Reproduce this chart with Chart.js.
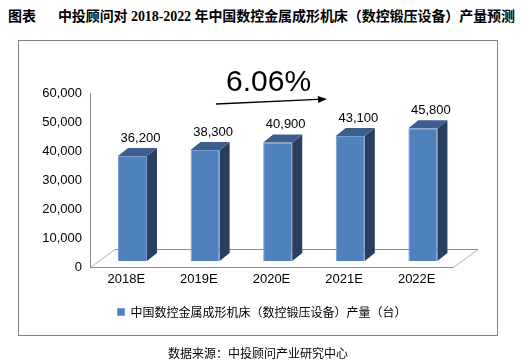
<!DOCTYPE html>
<html><head><meta charset="utf-8">
<script src="https://cdn.jsdelivr.net/npm/chart.js@4"></script>
<style>
html,body{margin:0;padding:0;background:#fff;}
body{width:521px;height:364px;position:relative;overflow:hidden;}
#title{position:absolute;left:8px;top:5px;font:bold 14px "Liberation Serif","Noto Sans CJK SC";white-space:nowrap;color:#000;}
#title .gap{display:inline-block;width:22px;}
#frame{position:absolute;left:18px;top:40px;width:478px;height:294px;border:1px solid #808080;}
#src{position:absolute;left:168px;top:344px;font:12px "Noto Sans CJK SC";color:#000;white-space:nowrap;}
canvas{position:absolute;left:0;top:0;}
</style></head>
<body>
<div id="title">图表<span class="gap"></span>中投顾问对 2018-2022 年中国数控金属成形机床（数控锻压设备）产量预测</div>
<div id="frame"></div>
<canvas id="c" width="521" height="364"></canvas>
<div id="src">数据来源：中投顾问产业研究中心</div>
<script>
const categories = ['2018E', '2019E', '2020E', '2021E', '2022E'];
const production = [36200, 38300, 40900, 43100, 45800];
const yTicks = [0, 10000, 20000, 30000, 40000, 50000, 60000];
const seriesName = '中国数控金属成形机床（数控锻压设备）产量（台）';
const growthRate = '6.06%';

// fit title width
(function(){
  const t = document.getElementById('title');
  const w = t.getBoundingClientRect().width;
  const target = 507;
  const n = t.textContent.length;
  t.style.letterSpacing = ((target - w) / n) + 'px';
})();

const FRONT = '#4F81BD', SIDE = '#2A3F5F', TOPC = '#3C5F8D', EDGE = '#7a9fd0';
const SHIFT = {x: 6.2, y: -6};
const DEPTH = {x: 10, y: -8};
const FLOOR = {x: 24.5, y: -18};
const LEGEND_CENTER = 262;
const NUMFONT = '"Liberation Sans", Arial, sans-serif';
const fmt = v => v.toLocaleString('en-US');

const bar3d = {
  id: 'bar3d',
  afterLayout(chart) {
    const lg = chart.legend;
    if (lg) {
      const d = LEGEND_CENTER - (lg.left + lg.right) / 2;
      lg.left += d; lg.right += d;
    }
  },
  beforeDatasetsDraw(chart) {
    const {ctx, scales: {x, y}} = chart;
    const y0 = Math.round(y.getPixelForValue(0)) + 0.5;
    const l = Math.round(x.left) + 0.5, r = Math.round(x.right) + 0.5;
    ctx.save();
    ctx.lineWidth = 1;
    ctx.strokeStyle = '#b0b0b0';
    ctx.beginPath();
    ctx.moveTo(l, y0); ctx.lineTo(l + FLOOR.x, y0 + FLOOR.y);
    ctx.moveTo(r, y0); ctx.lineTo(r + FLOOR.x, y0 + FLOOR.y);
    ctx.stroke();
    ctx.strokeStyle = '#8c8c8c';
    ctx.beginPath();
    ctx.moveTo(l, y0); ctx.lineTo(r, y0);
    ctx.moveTo(l + FLOOR.x, y0 + FLOOR.y); ctx.lineTo(r + FLOOR.x, y0 + FLOOR.y);
    ctx.stroke();
    ctx.restore();
    ctx.save();
    ctx.translate(SHIFT.x, SHIFT.y);
  },
  afterDatasetsDraw(chart) {
    const {ctx} = chart;
    const meta = chart.getDatasetMeta(0);
    const data = chart.data.datasets[0].data;
    meta.data.forEach((bar, i) => {
      const p = bar.getProps(['x', 'y', 'base', 'width'], true);
      const xl = p.x - p.width / 2, xr = p.x + p.width / 2;
      ctx.fillStyle = SIDE;
      ctx.beginPath();
      ctx.moveTo(xr, p.y); ctx.lineTo(xr + DEPTH.x, p.y + DEPTH.y);
      ctx.lineTo(xr + DEPTH.x, p.base + DEPTH.y); ctx.lineTo(xr, p.base);
      ctx.closePath(); ctx.fill();
      ctx.fillStyle = TOPC;
      ctx.beginPath();
      ctx.moveTo(xl, p.y); ctx.lineTo(xl + DEPTH.x, p.y + DEPTH.y);
      ctx.lineTo(xr + DEPTH.x, p.y + DEPTH.y); ctx.lineTo(xr, p.y);
      ctx.closePath(); ctx.fill();
      ctx.fillStyle = '#000';
      ctx.font = '13px ' + NUMFONT;
      ctx.textAlign = 'center';
      ctx.textBaseline = 'middle';
      ctx.fillText(fmt(data[i]), p.x + DEPTH.x / 2 + 3, p.y + DEPTH.y - 10);
    });
    ctx.restore();
  },
  afterDraw(chart) {
    const {ctx, scales: {x, y}} = chart;
    const x1 = x.getPixelForValue(1.235), y1 = y.getPixelForValue(56200);
    const x2 = x.getPixelForValue(2.764), y2 = y.getPixelForValue(57930);
    ctx.save();
    ctx.strokeStyle = '#000'; ctx.fillStyle = '#000'; ctx.lineWidth = 1.3;
    const ang = Math.atan2(y2 - y1, x2 - x1);
    const hl = 9, hw = 3.5;
    const bx = x2 - hl * Math.cos(ang), by = y2 - hl * Math.sin(ang);
    ctx.beginPath(); ctx.moveTo(x1, y1); ctx.lineTo(bx, by); ctx.stroke();
    ctx.beginPath();
    ctx.moveTo(x2, y2);
    ctx.lineTo(bx + hw * Math.sin(ang), by - hw * Math.cos(ang));
    ctx.lineTo(bx - hw * Math.sin(ang), by + hw * Math.cos(ang));
    ctx.closePath(); ctx.fill();
    ctx.font = '30px ' + NUMFONT;
    ctx.textAlign = 'center'; ctx.textBaseline = 'middle';
    ctx.fillText(growthRate, x.getPixelForValue(1.959), y.getPixelForValue(63620));
    ctx.restore();
  }
};

new Chart(document.getElementById('c'), {
  type: 'bar',
  data: {
    labels: categories,
    datasets: [{
      label: seriesName,
      data: production,
      backgroundColor: FRONT,
      borderColor: EDGE,
      borderWidth: 1,
      barPercentage: 0.4,
      categoryPercentage: 1.0,
      clip: false
    }]
  },
  options: {
    responsive: false,
    animation: false,
    layout: {padding: {left: 0, right: 68, top: 93, bottom: 36}},
    plugins: {
      legend: {
        position: 'bottom',
        labels: {
          boxWidth: 7, boxHeight: 7, padding: 11, color: '#000',
          font: {family: '"Noto Sans CJK SC", sans-serif', size: 12}
        }
      },
      tooltip: {enabled: false},
      title: {display: false}
    },
    scales: {
      x: {
        afterFit(s) { s.height = 28; },
        grid: {display: false, drawTicks: false},
        border: {display: false},
        ticks: {padding: 5, color: '#000', maxRotation: 0, font: {family: NUMFONT, size: 13}}
      },
      y: {
        min: 0, max: 60000,
        afterFit(s) { s.width = 90; },
        afterBuildTicks(s) { s.ticks = yTicks.map(v => ({value: v})); },
        grid: {display: false, drawTicks: false},
        border: {display: true, color: '#8c8c8c'},
        ticks: {padding: 8, color: '#000', font: {family: NUMFONT, size: 13}, callback: v => fmt(v)}
      }
    }
  },
  plugins: [bar3d]
});
</script>
</body></html>
